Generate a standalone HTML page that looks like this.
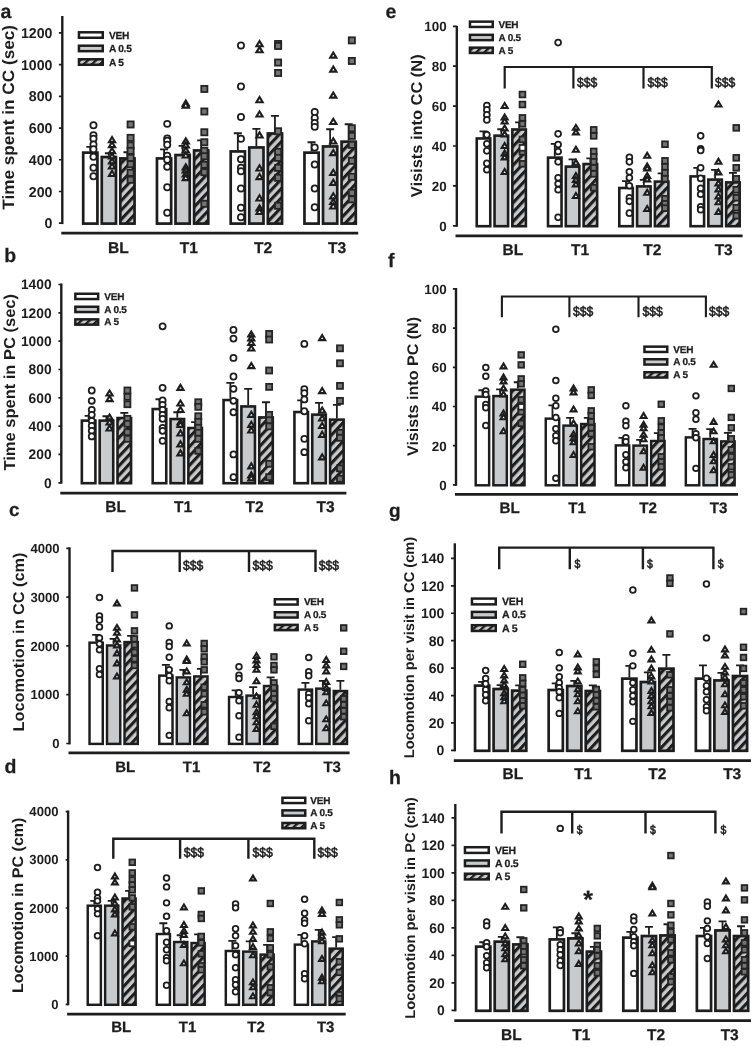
<!DOCTYPE html>
<html><head><meta charset="utf-8"><title>Figure</title>
<style>html,body{margin:0;padding:0;background:#fff}svg{display:block}text{font-family:'Liberation Sans', Arial, sans-serif;font-weight:bold;fill:#1d1d1d;text-rendering:geometricPrecision;stroke:#1d1d1d;stroke-width:0.25px}.n text{font-weight:normal;stroke-width:0.6px}text.ns,.nsg text{stroke:none}</style>
</head><body>
<svg width="751" height="1047" viewBox="0 0 751 1047">
<defs>
<pattern id="h" width="6.4" height="6.4" patternUnits="userSpaceOnUse" patternTransform="rotate(-47)"><rect width="6.4" height="6.4" fill="#c9cacc"/><rect y="0" width="6.4" height="3.1" fill="#1d1d1d"/></pattern>
<pattern id="h2" width="5.4" height="5.4" patternUnits="userSpaceOnUse" patternTransform="rotate(-42)"><rect width="5.4" height="5.4" fill="#c9cacc"/><rect y="0" width="5.4" height="2.3" fill="#1d1d1d"/></pattern>
</defs>
<rect width="751" height="1047" fill="#fff"/>
<g id="pa"><g stroke="#1d1d1d" stroke-width="2.7"><rect x="83.21" y="152.64" width="14.22" height="70.96" fill="#fff"/><rect x="101.77" y="157.03" width="14.22" height="66.57" fill="#c9cacc"/><rect x="120.33" y="158.43" width="14.22" height="65.17" fill="url(#h)"/><rect x="156.96" y="158.43" width="14.22" height="65.17" fill="#fff"/><rect x="175.52" y="155.03" width="14.22" height="68.57" fill="#c9cacc"/><rect x="194.08" y="150.44" width="14.22" height="73.16" fill="url(#h)"/><rect x="230.71" y="151.44" width="14.22" height="72.16" fill="#fff"/><rect x="249.27" y="147.45" width="14.22" height="76.15" fill="#c9cacc"/><rect x="267.83" y="133.46" width="14.22" height="90.14" fill="url(#h)"/><rect x="304.46" y="152.64" width="14.22" height="70.96" fill="#fff"/><rect x="323.02" y="146.45" width="14.22" height="77.15" fill="#c9cacc"/><rect x="341.58" y="141.65" width="14.22" height="81.95" fill="url(#h)"/></g>
<path d="M90.32 151.44V146.84M86.32 146.84H94.32M108.88 155.83V153.24M104.88 153.24H112.88M127.44 157.23V152.24M123.44 152.24H131.44M164.07 157.23V149.44M160.07 149.44H168.07M182.63 153.83V145.85M178.63 145.85H186.63M201.19 149.24V140.45M197.19 140.45H205.19M237.82 150.24V133.26M233.82 133.26H241.82M256.38 146.25V128.87M252.38 128.87H260.38M274.94 132.26V115.89M270.94 115.89H278.94M311.57 151.44V142.25M307.57 142.25H315.57M330.13 145.25V129.27M326.13 129.27H334.13M348.69 140.45V124.27M344.69 124.27H352.69" stroke="#1d1d1d" stroke-width="1.8" fill="none"/>
<g fill="#fff" stroke="#1d1d1d" stroke-width="1.75"><circle cx="93.48" cy="125.27" r="3.12"/><circle cx="93.48" cy="135.26" r="3.12"/><circle cx="93.48" cy="138.85" r="3.12"/><circle cx="93.48" cy="144.45" r="3.12"/><circle cx="93.48" cy="149.24" r="3.12"/><circle cx="93.48" cy="156.83" r="3.12"/><circle cx="93.48" cy="167.82" r="3.12"/><circle cx="93.48" cy="176.21" r="3.12"/><circle cx="167.23" cy="123.87" r="3.12"/><circle cx="167.23" cy="138.46" r="3.12"/><circle cx="167.23" cy="140.85" r="3.12"/><circle cx="167.23" cy="144.85" r="3.12"/><circle cx="167.23" cy="155.83" r="3.12"/><circle cx="167.23" cy="159.83" r="3.12"/><circle cx="167.23" cy="166.82" r="3.12"/><circle cx="167.23" cy="187.19" r="3.12"/><circle cx="167.23" cy="212.76" r="3.12"/><circle cx="240.98" cy="45.38" r="3.12"/><circle cx="240.98" cy="86.52" r="3.12"/><circle cx="240.98" cy="117.08" r="3.12"/><circle cx="240.98" cy="138.85" r="3.12"/><circle cx="240.98" cy="159.23" r="3.12"/><circle cx="240.98" cy="167.82" r="3.12"/><circle cx="240.98" cy="171.21" r="3.12"/><circle cx="240.98" cy="188.39" r="3.12"/><circle cx="240.98" cy="207.76" r="3.12"/><circle cx="240.98" cy="217.35" r="3.12"/><circle cx="314.73" cy="111.89" r="3.12"/><circle cx="314.73" cy="117.88" r="3.12"/><circle cx="314.73" cy="122.88" r="3.12"/><circle cx="314.73" cy="126.87" r="3.12"/><circle cx="314.73" cy="147.44" r="3.12"/><circle cx="314.73" cy="164.42" r="3.12"/><circle cx="314.73" cy="188.39" r="3.12"/><circle cx="314.73" cy="207.16" r="3.12"/></g>
<g fill="#fff" stroke="#1d1d1d" stroke-width="2.1" stroke-linejoin="miter"><path d="M112.04 136.99L115.14 142.13H108.94Z"/><path d="M112.04 141.99L115.14 147.12H108.94Z"/><path d="M112.04 147.98L115.14 153.11H108.94Z"/><path d="M112.04 153.37L115.14 158.51H108.94Z"/><path d="M112.04 158.36L115.14 163.5H108.94Z"/><path d="M112.04 163.36L115.14 168.49H108.94Z"/><path d="M112.04 170.75L115.14 175.88H108.94Z"/><path d="M185.79 100.44L188.89 105.58H182.69Z"/><path d="M185.79 102.44L188.89 107.58H182.69Z"/><path d="M185.79 138.39L188.89 143.53H182.69Z"/><path d="M185.79 142.39L188.89 147.52H182.69Z"/><path d="M185.79 147.38L188.89 152.52H182.69Z"/><path d="M185.79 152.37L188.89 157.51H182.69Z"/><path d="M185.79 164.36L188.89 169.49H182.69Z"/><path d="M185.79 167.35L188.89 172.49H182.69Z"/><path d="M185.79 171.35L188.89 176.48H182.69Z"/><path d="M185.79 174.94L188.89 180.08H182.69Z"/><path d="M259.54 41.12L262.64 46.26H256.44Z"/><path d="M259.54 47.11L262.64 52.25H256.44Z"/><path d="M259.54 97.05L262.64 102.18H256.44Z"/><path d="M259.54 111.43L262.64 116.56H256.44Z"/><path d="M259.54 132.4L262.64 137.54H256.44Z"/><path d="M259.54 165.36L262.64 170.49H256.44Z"/><path d="M259.54 173.94L262.64 179.08H256.44Z"/><path d="M259.54 195.32L262.64 200.45H256.44Z"/><path d="M259.54 205.3L262.64 210.44H256.44Z"/><path d="M259.54 208.9L262.64 214.03H256.44Z"/><path d="M333.29 52.51L336.39 57.64H330.19Z"/><path d="M333.29 66.49L336.39 71.62H330.19Z"/><path d="M333.29 92.45L336.39 97.59H330.19Z"/><path d="M333.29 118.82L336.39 123.95H330.19Z"/><path d="M333.29 138.39L336.39 143.53H330.19Z"/><path d="M333.29 149.98L336.39 155.11H330.19Z"/><path d="M333.29 169.75L336.39 174.89H330.19Z"/><path d="M333.29 179.74L336.39 184.87H330.19Z"/><path d="M333.29 193.32L336.39 198.45H330.19Z"/><path d="M333.29 198.91L336.39 204.05H330.19Z"/><path d="M333.29 203.3L336.39 208.44H330.19Z"/></g>
<g fill="#747474" stroke="#242424" stroke-width="1.8"><rect x="127.53" y="121.41" width="6.13" height="6.13"/><rect x="127.53" y="134.79" width="6.13" height="6.13"/><rect x="127.53" y="142.38" width="6.13" height="6.13"/><rect x="127.53" y="147.77" width="6.13" height="6.13"/><rect x="127.53" y="154.76" width="6.13" height="6.13"/><rect x="127.53" y="161.16" width="6.13" height="6.13"/><rect x="127.53" y="169.74" width="6.13" height="6.13"/><rect x="127.53" y="176.73" width="6.13" height="6.13"/><rect x="201.28" y="85.86" width="6.13" height="6.13"/><rect x="201.28" y="108.43" width="6.13" height="6.13"/><rect x="201.28" y="129.2" width="6.13" height="6.13"/><rect x="201.28" y="139.18" width="6.13" height="6.13"/><rect x="201.28" y="147.77" width="6.13" height="6.13"/><rect x="201.28" y="153.17" width="6.13" height="6.13"/><rect x="201.28" y="161.75" width="6.13" height="6.13"/><rect x="201.28" y="169.14" width="6.13" height="6.13"/><rect x="201.28" y="200.7" width="6.13" height="6.13"/><rect x="275.03" y="40.92" width="6.13" height="6.13"/><rect x="275.03" y="42.91" width="6.13" height="6.13"/><rect x="275.03" y="59.49" width="6.13" height="6.13"/><rect x="275.03" y="69.88" width="6.13" height="6.13"/><rect x="275.03" y="128.2" width="6.13" height="6.13"/><rect x="275.03" y="148.77" width="6.13" height="6.13"/><rect x="275.03" y="154.76" width="6.13" height="6.13"/><rect x="275.03" y="164.75" width="6.13" height="6.13"/><rect x="275.03" y="174.74" width="6.13" height="6.13"/><rect x="275.03" y="202.7" width="6.13" height="6.13"/><rect x="348.78" y="37.32" width="6.13" height="6.13"/><rect x="348.78" y="57.89" width="6.13" height="6.13"/><rect x="348.78" y="125.2" width="6.13" height="6.13"/><rect x="348.78" y="132.79" width="6.13" height="6.13"/><rect x="348.78" y="141.78" width="6.13" height="6.13"/><rect x="348.78" y="157.76" width="6.13" height="6.13"/><rect x="348.78" y="173.74" width="6.13" height="6.13"/><rect x="348.78" y="189.72" width="6.13" height="6.13"/><rect x="348.78" y="196.31" width="6.13" height="6.13"/></g>
<path d="M58.9 223.2H62.3M58.9 191.48H62.3M58.9 159.76H62.3M58.9 128.04H62.3M58.9 96.32H62.3M58.9 64.6H62.3M58.9 32.88H62.3" stroke="#1d1d1d" stroke-width="1.7" fill="none"/>
<path d="M61.3 233.1H358.2" stroke="#1d1d1d" stroke-width="2.7" fill="none"/>
<path d="M62.3 16V224.1" stroke="#1d1d1d" stroke-width="2.4" fill="none"/>
<g class="nsg" font-size="14.2" text-anchor="end"><text x="52.5" y="228.28">0</text><text x="52.5" y="196.56">200</text><text x="52.5" y="164.84">400</text><text x="52.5" y="133.12">600</text><text x="52.5" y="101.4">800</text><text x="52.5" y="69.68">1000</text><text x="52.5" y="37.96">1200</text></g>
<g font-size="15.6" text-anchor="middle"><text x="118.5" y="253.4">BL</text><text x="188.9" y="253.4">T1</text><text x="263" y="253.4">T2</text><text x="337" y="253.4">T3</text></g>
<text x="0.6" y="17.8" font-size="19.5">a</text>
<text transform="translate(13.6 117.4) rotate(-90)" font-size="16.5" text-anchor="middle" textLength="184.8" lengthAdjust="spacingAndGlyphs" class="ns">Time spent in CC (sec)</text>
<g font-size="10.2" letter-spacing="-0.25"><rect x="78.95" y="32.3" width="23.8" height="5.46" fill="#fff" stroke="#1d1d1d" stroke-width="2.5"/><text x="108.9" y="38.52">VEH</text><rect x="78.95" y="45.7" width="23.8" height="5.46" fill="#c9cacc" stroke="#1d1d1d" stroke-width="2.5"/><text x="108.9" y="51.92">A 0.5</text><rect x="78.95" y="59.3" width="23.8" height="5.46" fill="url(#h2)" stroke="#1d1d1d" stroke-width="2.5"/><text x="108.9" y="65.52">A 5</text></g></g>
<g id="pb"><g stroke="#1d1d1d" stroke-width="2.6"><rect x="81.85" y="420.63" width="13.55" height="62.57" fill="#fff"/><rect x="99.68" y="420.63" width="13.55" height="62.57" fill="#c9cacc"/><rect x="117.51" y="418.03" width="13.55" height="65.17" fill="url(#h)"/><rect x="152.71" y="409.04" width="13.55" height="74.16" fill="#fff"/><rect x="170.54" y="419.03" width="13.55" height="64.17" fill="#c9cacc"/><rect x="188.37" y="428.02" width="13.55" height="55.18" fill="url(#h)"/><rect x="223.57" y="400.05" width="13.55" height="83.15" fill="#fff"/><rect x="241.4" y="406.45" width="13.55" height="76.75" fill="#c9cacc"/><rect x="259.23" y="417.43" width="13.55" height="65.77" fill="url(#h)"/><rect x="294.43" y="412.04" width="13.55" height="71.16" fill="#fff"/><rect x="312.26" y="414.64" width="13.55" height="68.56" fill="#c9cacc"/><rect x="330.09" y="419.63" width="13.55" height="63.57" fill="url(#h)"/></g>
<path d="M88.63 419.43V415.83M84.63 415.83H92.63M106.46 419.43V416.23M102.46 416.23H110.46M124.29 416.83V412.84M120.29 412.84H128.29M159.49 407.84V399.25M155.49 399.25H163.49M177.32 417.83V412.24M173.32 412.24H181.32M195.15 426.82V422.22M191.15 422.22H199.15M230.35 398.85V382.88M226.35 382.88H234.35M248.18 405.25V388.87M244.18 388.87H252.18M266.01 416.23V402.25M262.01 402.25H270.01M301.21 410.84V400.45M297.21 400.45H305.21M319.04 413.44V402.85M315.04 402.85H323.04M336.87 418.43V404.85M332.87 404.85H340.87" stroke="#1d1d1d" stroke-width="1.8" fill="none"/>
<g fill="#fff" stroke="#1d1d1d" stroke-width="1.75"><circle cx="91.75" cy="390.47" r="3.04"/><circle cx="91.75" cy="400.85" r="3.04"/><circle cx="91.75" cy="409.84" r="3.04"/><circle cx="91.75" cy="414.83" r="3.04"/><circle cx="91.75" cy="420.83" r="3.04"/><circle cx="91.75" cy="425.82" r="3.04"/><circle cx="91.75" cy="430.81" r="3.04"/><circle cx="91.75" cy="436.4" r="3.04"/><circle cx="162.61" cy="326.35" r="3.04"/><circle cx="162.61" cy="387.87" r="3.04"/><circle cx="162.61" cy="400.45" r="3.04"/><circle cx="162.61" cy="404.85" r="3.04"/><circle cx="162.61" cy="409.84" r="3.04"/><circle cx="162.61" cy="414.83" r="3.04"/><circle cx="162.61" cy="418.83" r="3.04"/><circle cx="162.61" cy="427.82" r="3.04"/><circle cx="162.61" cy="430.81" r="3.04"/><circle cx="162.61" cy="440.8" r="3.04"/><circle cx="233.47" cy="329.95" r="3.04"/><circle cx="233.47" cy="338.54" r="3.04"/><circle cx="233.47" cy="357.91" r="3.04"/><circle cx="233.47" cy="376.48" r="3.04"/><circle cx="233.47" cy="388.87" r="3.04"/><circle cx="233.47" cy="400.85" r="3.04"/><circle cx="233.47" cy="412.24" r="3.04"/><circle cx="233.47" cy="454.38" r="3.04"/><circle cx="233.47" cy="477.15" r="3.04"/><circle cx="304.33" cy="343.93" r="3.04"/><circle cx="304.33" cy="389.27" r="3.04"/><circle cx="304.33" cy="393.26" r="3.04"/><circle cx="304.33" cy="399.45" r="3.04"/><circle cx="304.33" cy="411.24" r="3.04"/><circle cx="304.33" cy="438.8" r="3.04"/><circle cx="304.33" cy="452.18" r="3.04"/></g>
<g fill="#fff" stroke="#1d1d1d" stroke-width="2.1" stroke-linejoin="miter"><path d="M109.58 390.45L112.62 395.49H106.53Z"/><path d="M109.58 396.04L112.62 401.08H106.53Z"/><path d="M109.58 414.42L112.62 419.46H106.53Z"/><path d="M109.58 419.41L112.62 424.45H106.53Z"/><path d="M109.58 425.4L112.62 430.44H106.53Z"/><path d="M180.44 384.86L183.49 389.9H177.4Z"/><path d="M180.44 400.43L183.49 405.47H177.4Z"/><path d="M180.44 407.03L183.49 412.07H177.4Z"/><path d="M180.44 419.41L183.49 424.45H177.4Z"/><path d="M180.44 421.81L183.49 426.85H177.4Z"/><path d="M180.44 430.39L183.49 435.43H177.4Z"/><path d="M180.44 441.38L183.49 446.42H177.4Z"/><path d="M180.44 450.37L183.49 455.41H177.4Z"/><path d="M251.3 331.53L254.34 336.57H248.25Z"/><path d="M251.3 335.52L254.34 340.56H248.25Z"/><path d="M251.3 339.92L254.34 344.96H248.25Z"/><path d="M251.3 345.51L254.34 350.55H248.25Z"/><path d="M251.3 363.08L254.34 368.12H248.25Z"/><path d="M251.3 411.82L254.34 416.86H248.25Z"/><path d="M251.3 421.81L254.34 426.85H248.25Z"/><path d="M251.3 427.4L254.34 432.44H248.25Z"/><path d="M251.3 463.35L254.34 468.39H248.25Z"/><path d="M251.3 472.34L254.34 477.38H248.25Z"/><path d="M251.3 475.33L254.34 480.37H248.25Z"/><path d="M322.16 335.12L325.2 340.16H319.11Z"/><path d="M322.16 388.05L325.2 393.09H319.11Z"/><path d="M322.16 407.43L325.2 412.47H319.11Z"/><path d="M322.16 415.41L325.2 420.45H319.11Z"/><path d="M322.16 423L325.2 428.04H319.11Z"/><path d="M322.16 431.79L325.2 436.83H319.11Z"/><path d="M322.16 454.36L325.2 459.4H319.11Z"/></g>
<g fill="#747474" stroke="#242424" stroke-width="1.8"><rect x="124.42" y="387.48" width="5.98" height="5.98"/><rect x="124.42" y="393.87" width="5.98" height="5.98"/><rect x="124.42" y="401.26" width="5.98" height="5.98"/><rect x="124.42" y="415.84" width="5.98" height="5.98"/><rect x="124.42" y="420.83" width="5.98" height="5.98"/><rect x="124.42" y="429.22" width="5.98" height="5.98"/><rect x="124.42" y="435.81" width="5.98" height="5.98"/><rect x="195.28" y="399.26" width="5.98" height="5.98"/><rect x="195.28" y="403.85" width="5.98" height="5.98"/><rect x="195.28" y="413.24" width="5.98" height="5.98"/><rect x="195.28" y="418.83" width="5.98" height="5.98"/><rect x="195.28" y="424.83" width="5.98" height="5.98"/><rect x="195.28" y="429.82" width="5.98" height="5.98"/><rect x="195.28" y="435.81" width="5.98" height="5.98"/><rect x="195.28" y="447.8" width="5.98" height="5.98"/><rect x="266.14" y="330.95" width="5.98" height="5.98"/><rect x="266.14" y="336.54" width="5.98" height="5.98"/><rect x="266.14" y="367.5" width="5.98" height="5.98"/><rect x="266.14" y="383.88" width="5.98" height="5.98"/><rect x="266.14" y="411.84" width="5.98" height="5.98"/><rect x="266.14" y="417.24" width="5.98" height="5.98"/><rect x="266.14" y="423.43" width="5.98" height="5.98"/><rect x="266.14" y="460.78" width="5.98" height="5.98"/><rect x="266.14" y="474.16" width="5.98" height="5.98"/><rect x="337" y="345.33" width="5.98" height="5.98"/><rect x="337" y="360.31" width="5.98" height="5.98"/><rect x="337" y="382.88" width="5.98" height="5.98"/><rect x="337" y="397.86" width="5.98" height="5.98"/><rect x="337" y="429.82" width="5.98" height="5.98"/><rect x="337" y="434.81" width="5.98" height="5.98"/><rect x="337" y="465.37" width="5.98" height="5.98"/><rect x="337" y="475.76" width="5.98" height="5.98"/></g>
<path d="M58.4 482.8H61.3M58.4 454.47H61.3M58.4 426.14H61.3M58.4 397.81H61.3M58.4 369.48H61.3M58.4 341.15H61.3M58.4 312.82H61.3M58.4 284.49H61.3" stroke="#1d1d1d" stroke-width="1.7" fill="none"/>
<path d="M60.3 493.1H346.4" stroke="#1d1d1d" stroke-width="2.7" fill="none"/>
<path d="M61.3 283.5V483.7" stroke="#1d1d1d" stroke-width="2.4" fill="none"/>
<g class="nsg" font-size="13.8" text-anchor="end"><text x="51.6" y="487.74">0</text><text x="51.6" y="459.41">200</text><text x="51.6" y="431.08">400</text><text x="51.6" y="402.75">600</text><text x="51.6" y="374.42">800</text><text x="51.6" y="346.09">1000</text><text x="51.6" y="317.76">1200</text><text x="51.6" y="289.43">1400</text></g>
<g font-size="15.5" text-anchor="middle"><text x="115.7" y="511.5">BL</text><text x="183" y="511.5">T1</text><text x="254.6" y="511.5">T2</text><text x="325.5" y="511.5">T3</text></g>
<text x="4.2" y="261.7" font-size="19.5">b</text>
<text transform="translate(15.2 382.3) rotate(-90)" font-size="15.9" text-anchor="middle" textLength="176.5" lengthAdjust="spacingAndGlyphs" class="ns">Time spent in PC (sec)</text>
<g font-size="10" letter-spacing="-0.25"><rect x="75.35" y="293.75" width="22.8" height="5.3" fill="#fff" stroke="#1d1d1d" stroke-width="2.5"/><text x="104.3" y="299.85">VEH</text><rect x="75.35" y="306.75" width="22.8" height="5.3" fill="#c9cacc" stroke="#1d1d1d" stroke-width="2.5"/><text x="104.3" y="312.85">A 0.5</text><rect x="75.35" y="319.35" width="22.8" height="5.3" fill="url(#h2)" stroke="#1d1d1d" stroke-width="2.5"/><text x="104.3" y="325.45">A 5</text></g></g>
<g id="pc"><g stroke="#1d1d1d" stroke-width="2.45"><rect x="89.53" y="642.67" width="13.25" height="101.23" fill="#fff"/><rect x="107.02" y="645.47" width="13.25" height="98.43" fill="#c9cacc"/><rect x="124.51" y="642.07" width="13.25" height="101.83" fill="url(#h)"/><rect x="159.28" y="675.63" width="13.25" height="68.27" fill="#fff"/><rect x="176.77" y="677.43" width="13.25" height="66.47" fill="#c9cacc"/><rect x="194.26" y="676.43" width="13.25" height="67.47" fill="url(#h)"/><rect x="229.03" y="697" width="13.25" height="46.9" fill="#fff"/><rect x="246.52" y="695.6" width="13.25" height="48.3" fill="#c9cacc"/><rect x="264.01" y="686.01" width="13.25" height="57.89" fill="url(#h)"/><rect x="298.78" y="689.61" width="13.25" height="54.29" fill="#fff"/><rect x="316.27" y="688.61" width="13.25" height="55.29" fill="#c9cacc"/><rect x="333.76" y="691.01" width="13.25" height="52.89" fill="url(#h)"/></g>
<path d="M96.15 641.47V634.88M92.15 634.88H100.15M113.64 644.27V638.87M109.64 638.87H117.64M131.13 640.87V635.88M127.13 635.88H135.13M165.9 674.43V664.84M161.9 664.84H169.9M183.39 676.23V669.83M179.39 669.83H187.39M200.88 675.23V668.83M196.88 668.83H204.88M235.65 695.8V690.41M231.65 690.41H239.65M253.14 694.4V687.21M249.14 687.21H257.14M270.63 684.81V677.42M266.63 677.42H274.63M305.4 688.41V682.82M301.4 682.82H309.4M322.89 687.41V680.82M318.89 680.82H326.89M340.38 689.81V680.82M336.38 680.82H344.38" stroke="#1d1d1d" stroke-width="1.8" fill="none"/>
<g fill="#fff" stroke="#1d1d1d" stroke-width="1.75"><circle cx="99.48" cy="597.53" r="2.85"/><circle cx="99.48" cy="615.91" r="2.85"/><circle cx="99.48" cy="619.9" r="2.85"/><circle cx="99.48" cy="626.89" r="2.85"/><circle cx="99.48" cy="637.88" r="2.85"/><circle cx="99.48" cy="643.87" r="2.85"/><circle cx="99.48" cy="649.86" r="2.85"/><circle cx="99.48" cy="668.83" r="2.85"/><circle cx="99.48" cy="674.43" r="2.85"/><circle cx="169.23" cy="625.89" r="2.85"/><circle cx="169.23" cy="642.47" r="2.85"/><circle cx="169.23" cy="646.46" r="2.85"/><circle cx="169.23" cy="657.25" r="2.85"/><circle cx="169.23" cy="669.83" r="2.85"/><circle cx="169.23" cy="675.83" r="2.85"/><circle cx="169.23" cy="680.82" r="2.85"/><circle cx="169.23" cy="701.39" r="2.85"/><circle cx="169.23" cy="707.78" r="2.85"/><circle cx="169.23" cy="735.35" r="2.85"/><circle cx="238.98" cy="666.84" r="2.85"/><circle cx="238.98" cy="675.23" r="2.85"/><circle cx="238.98" cy="678.42" r="2.85"/><circle cx="238.98" cy="692.8" r="2.85"/><circle cx="238.98" cy="700.79" r="2.85"/><circle cx="238.98" cy="715.77" r="2.85"/><circle cx="238.98" cy="737.14" r="2.85"/><circle cx="308.73" cy="657.45" r="2.85"/><circle cx="308.73" cy="671.83" r="2.85"/><circle cx="308.73" cy="675.83" r="2.85"/><circle cx="308.73" cy="693.8" r="2.85"/><circle cx="308.73" cy="697.8" r="2.85"/><circle cx="308.73" cy="703.79" r="2.85"/><circle cx="308.73" cy="720.77" r="2.85"/></g>
<g fill="#fff" stroke="#1d1d1d" stroke-width="2.1" stroke-linejoin="miter"><path d="M116.97 600.62L119.87 605.42H114.07Z"/><path d="M116.97 624.99L119.87 629.79H114.07Z"/><path d="M116.97 629.98L119.87 634.78H114.07Z"/><path d="M116.97 636.57L119.87 641.37H114.07Z"/><path d="M116.97 642.57L119.87 647.37H114.07Z"/><path d="M116.97 650.56L119.87 655.36H114.07Z"/><path d="M116.97 660.54L119.87 665.34H114.07Z"/><path d="M116.97 673.53L119.87 678.33H114.07Z"/><path d="M186.72 640.57L189.62 645.37H183.82Z"/><path d="M186.72 656.55L189.62 661.35H183.82Z"/><path d="M186.72 658.15L189.62 662.95H183.82Z"/><path d="M186.72 668.53L189.62 673.33H183.82Z"/><path d="M186.72 679.52L189.62 684.32H183.82Z"/><path d="M186.72 686.91L189.62 691.71H183.82Z"/><path d="M186.72 690.9L189.62 695.7H183.82Z"/><path d="M186.72 710.48L189.62 715.28H183.82Z"/><path d="M256.47 653.15L259.37 657.95H253.57Z"/><path d="M256.47 657.55L259.37 662.35H253.57Z"/><path d="M256.47 662.14L259.37 666.94H253.57Z"/><path d="M256.47 666.93L259.37 671.73H253.57Z"/><path d="M256.47 678.52L259.37 683.32H253.57Z"/><path d="M256.47 693.5L259.37 698.3H253.57Z"/><path d="M256.47 701.89L259.37 706.69H253.57Z"/><path d="M256.47 709.48L259.37 714.28H253.57Z"/><path d="M256.47 713.47L259.37 718.27H253.57Z"/><path d="M256.47 719.46L259.37 724.26H253.57Z"/><path d="M256.47 726.06L259.37 730.86H253.57Z"/><path d="M326.22 657.15L329.12 661.95H323.32Z"/><path d="M326.22 662.54L329.12 667.34H323.32Z"/><path d="M326.22 668.53L329.12 673.33H323.32Z"/><path d="M326.22 679.12L329.12 683.92H323.32Z"/><path d="M326.22 685.11L329.12 689.91H323.32Z"/><path d="M326.22 689.5L329.12 694.3H323.32Z"/><path d="M326.22 700.49L329.12 705.29H323.32Z"/><path d="M326.22 716.47L329.12 721.27H323.32Z"/><path d="M326.22 725.46L329.12 730.26H323.32Z"/></g>
<g fill="#747474" stroke="#242424" stroke-width="1.8"><rect x="131.66" y="585.14" width="5.6" height="5.6"/><rect x="131.66" y="612.11" width="5.6" height="5.6"/><rect x="131.66" y="628.09" width="5.6" height="5.6"/><rect x="131.66" y="636.07" width="5.6" height="5.6"/><rect x="131.66" y="642.07" width="5.6" height="5.6"/><rect x="131.66" y="649.46" width="5.6" height="5.6"/><rect x="131.66" y="656.05" width="5.6" height="5.6"/><rect x="131.66" y="662.64" width="5.6" height="5.6"/><rect x="201.41" y="640.67" width="5.6" height="5.6"/><rect x="201.41" y="646.06" width="5.6" height="5.6"/><rect x="201.41" y="654.05" width="5.6" height="5.6"/><rect x="201.41" y="659.04" width="5.6" height="5.6"/><rect x="201.41" y="667.03" width="5.6" height="5.6"/><rect x="201.41" y="684.41" width="5.6" height="5.6"/><rect x="201.41" y="691" width="5.6" height="5.6"/><rect x="201.41" y="701.99" width="5.6" height="5.6"/><rect x="201.41" y="708.98" width="5.6" height="5.6"/><rect x="271.16" y="654.05" width="5.6" height="5.6"/><rect x="271.16" y="662.64" width="5.6" height="5.6"/><rect x="271.16" y="667.03" width="5.6" height="5.6"/><rect x="271.16" y="680.02" width="5.6" height="5.6"/><rect x="271.16" y="685.01" width="5.6" height="5.6"/><rect x="271.16" y="691" width="5.6" height="5.6"/><rect x="271.16" y="695.99" width="5.6" height="5.6"/><rect x="271.16" y="723.56" width="5.6" height="5.6"/><rect x="340.91" y="625.09" width="5.6" height="5.6"/><rect x="340.91" y="648.46" width="5.6" height="5.6"/><rect x="340.91" y="663.64" width="5.6" height="5.6"/><rect x="340.91" y="695.99" width="5.6" height="5.6"/><rect x="340.91" y="701.99" width="5.6" height="5.6"/><rect x="340.91" y="707.98" width="5.6" height="5.6"/><rect x="340.91" y="713.97" width="5.6" height="5.6"/></g>
<path d="M66.3 743.5H69.5M66.3 694.7H69.5M66.3 645.9H69.5M66.3 597.1H69.5M66.3 548.3H69.5" stroke="#1d1d1d" stroke-width="1.7" fill="none"/>
<path d="M68.5 752.9H349.6" stroke="#1d1d1d" stroke-width="2.7" fill="none"/>
<path d="M112.5 571.9V551H315.5V571.9M179.7 551V571.9M249 551V571.9" stroke="#1d1d1d" stroke-width="2.4" fill="none"/>
<path d="M69.5 547.3V744.4" stroke="#1d1d1d" stroke-width="2.4" fill="none"/>
<g class="nsg" font-size="13.1" text-anchor="end"><text x="59.6" y="748.19">0</text><text x="59.6" y="699.39">1000</text><text x="59.6" y="650.59">2000</text><text x="59.6" y="601.79">3000</text><text x="59.6" y="552.99">4000</text></g>
<g font-size="15" text-anchor="middle"><text x="125.2" y="771.8">BL</text><text x="191.5" y="771.8">T1</text><text x="262" y="771.8">T2</text><text x="332.2" y="771.8">T3</text></g>
<text x="9" y="516" font-size="18.8">c</text>
<text transform="translate(24 642) rotate(-90)" font-size="15.6" text-anchor="middle" textLength="178.8" lengthAdjust="spacingAndGlyphs" class="ns">Locomotion in CC (cm)</text>
<g font-size="10" letter-spacing="-0.25"><rect x="274.85" y="599.25" width="22.8" height="5.3" fill="#fff" stroke="#1d1d1d" stroke-width="2.5"/><text x="303.9" y="605.35">VEH</text><rect x="274.85" y="612.25" width="22.8" height="5.3" fill="#c9cacc" stroke="#1d1d1d" stroke-width="2.5"/><text x="303.9" y="618.35">A 0.5</text><rect x="274.85" y="624.85" width="22.8" height="5.3" fill="url(#h2)" stroke="#1d1d1d" stroke-width="2.5"/><text x="303.9" y="630.95">A 5</text></g>
<g class="n" font-size="13.5"><text transform="translate(183 570) scale(0.9 1)">$$$</text><text transform="translate(252.5 570) scale(0.9 1)">$$$</text><text transform="translate(318.8 570) scale(0.9 1)">$$$</text></g></g>
<g id="pd"><g stroke="#1d1d1d" stroke-width="2.45"><rect x="87.74" y="905.67" width="13.15" height="99.13" fill="#fff"/><rect x="105.12" y="905.67" width="13.15" height="99.13" fill="#c9cacc"/><rect x="122.5" y="898.48" width="13.15" height="106.32" fill="url(#h)"/><rect x="156.77" y="934.03" width="13.15" height="70.77" fill="#fff"/><rect x="174.15" y="942.02" width="13.15" height="62.78" fill="#c9cacc"/><rect x="191.53" y="943.02" width="13.15" height="61.78" fill="url(#h)"/><rect x="225.8" y="951.01" width="13.15" height="53.79" fill="#fff"/><rect x="243.18" y="951.61" width="13.15" height="53.19" fill="#c9cacc"/><rect x="260.56" y="954.6" width="13.15" height="50.2" fill="url(#h)"/><rect x="294.83" y="944.62" width="13.15" height="60.18" fill="#fff"/><rect x="312.21" y="941.42" width="13.15" height="63.38" fill="#c9cacc"/><rect x="329.59" y="948.61" width="13.15" height="56.19" fill="url(#h)"/></g>
<path d="M94.31 904.47V900.87M90.31 900.87H98.31M111.69 904.47V900.87M107.69 900.87H115.69M129.07 897.28V890.89M125.07 890.89H133.07M163.34 932.83V923.24M159.34 923.24H167.34M180.72 940.82V935.23M176.72 935.23H184.72M198.1 941.82V934.43M194.1 934.43H202.1M232.37 949.81V940.82M228.37 940.82H236.37M249.75 950.41V941.42M245.75 941.42H253.75M267.13 953.4V944.81M263.13 944.81H271.13M301.4 943.42V934.83M297.4 934.83H305.4M318.78 940.22V929.83M314.78 929.83H322.78M336.16 947.41V937.22M332.16 937.22H340.16" stroke="#1d1d1d" stroke-width="1.8" fill="none"/>
<g fill="#fff" stroke="#1d1d1d" stroke-width="1.75"><circle cx="97.51" cy="867.52" r="2.85"/><circle cx="97.51" cy="892.28" r="2.85"/><circle cx="97.51" cy="897.88" r="2.85"/><circle cx="97.51" cy="900.87" r="2.85"/><circle cx="97.51" cy="908.86" r="2.85"/><circle cx="97.51" cy="913.85" r="2.85"/><circle cx="97.51" cy="935.83" r="2.85"/><circle cx="166.54" cy="877.9" r="2.85"/><circle cx="166.54" cy="886.89" r="2.85"/><circle cx="166.54" cy="902.87" r="2.85"/><circle cx="166.54" cy="916.25" r="2.85"/><circle cx="166.54" cy="930.83" r="2.85"/><circle cx="166.54" cy="942.22" r="2.85"/><circle cx="166.54" cy="949.81" r="2.85"/><circle cx="166.54" cy="957.8" r="2.85"/><circle cx="166.54" cy="960.79" r="2.85"/><circle cx="166.54" cy="985.16" r="2.85"/><circle cx="235.57" cy="903.87" r="2.85"/><circle cx="235.57" cy="907.86" r="2.85"/><circle cx="235.57" cy="928.83" r="2.85"/><circle cx="235.57" cy="935.83" r="2.85"/><circle cx="235.57" cy="945.81" r="2.85"/><circle cx="235.57" cy="954.8" r="2.85"/><circle cx="235.57" cy="967.78" r="2.85"/><circle cx="235.57" cy="979.77" r="2.85"/><circle cx="235.57" cy="984.76" r="2.85"/><circle cx="235.57" cy="991.75" r="2.85"/><circle cx="304.6" cy="899.27" r="2.85"/><circle cx="304.6" cy="913.26" r="2.85"/><circle cx="304.6" cy="919.85" r="2.85"/><circle cx="304.6" cy="923.24" r="2.85"/><circle cx="304.6" cy="935.83" r="2.85"/><circle cx="304.6" cy="943.81" r="2.85"/><circle cx="304.6" cy="973.77" r="2.85"/><circle cx="304.6" cy="978.77" r="2.85"/></g>
<g fill="#fff" stroke="#1d1d1d" stroke-width="2.1" stroke-linejoin="miter"><path d="M114.89 873.61L117.79 878.41H111.99Z"/><path d="M114.89 879.6L117.79 884.4H111.99Z"/><path d="M114.89 894.58L117.79 899.38H111.99Z"/><path d="M114.89 900.57L117.79 905.37H111.99Z"/><path d="M114.89 906.56L117.79 911.36H111.99Z"/><path d="M114.89 911.55L117.79 916.35H111.99Z"/><path d="M114.89 930.53L117.79 935.33H111.99Z"/><path d="M183.92 904.56L186.82 909.36H181.02Z"/><path d="M183.92 922.14L186.82 926.94H181.02Z"/><path d="M183.92 928.13L186.82 932.93H181.02Z"/><path d="M183.92 932.13L186.82 936.93H181.02Z"/><path d="M183.92 942.11L186.82 946.91H181.02Z"/><path d="M183.92 960.49L186.82 965.29H181.02Z"/><path d="M252.95 875.6L255.85 880.4H250.05Z"/><path d="M252.95 922.54L255.85 927.34H250.05Z"/><path d="M252.95 928.93L255.85 933.73H250.05Z"/><path d="M252.95 936.12L255.85 940.92H250.05Z"/><path d="M252.95 944.11L255.85 948.91H250.05Z"/><path d="M252.95 952.5L255.85 957.3H250.05Z"/><path d="M252.95 979.46L255.85 984.26H250.05Z"/><path d="M252.95 984.46L255.85 989.26H250.05Z"/><path d="M252.95 993.45L255.85 998.25H250.05Z"/><path d="M321.98 907.56L324.88 912.36H319.08Z"/><path d="M321.98 911.16L324.88 915.96H319.08Z"/><path d="M321.98 929.53L324.88 934.33H319.08Z"/><path d="M321.98 933.53L324.88 938.33H319.08Z"/><path d="M321.98 938.52L324.88 943.32H319.08Z"/><path d="M321.98 956.1L324.88 960.9H319.08Z"/><path d="M321.98 974.87L324.88 979.67H319.08Z"/><path d="M321.98 978.47L324.88 983.27H319.08Z"/></g>
<g fill="#747474" stroke="#242424" stroke-width="1.8"><rect x="129.47" y="859.52" width="5.6" height="5.6"/><rect x="129.47" y="870.11" width="5.6" height="5.6"/><rect x="129.47" y="877.1" width="5.6" height="5.6"/><rect x="129.47" y="882.09" width="5.6" height="5.6"/><rect x="129.47" y="887.09" width="5.6" height="5.6"/><rect x="129.47" y="895.08" width="5.6" height="5.6"/><rect x="129.47" y="904.06" width="5.6" height="5.6"/><rect x="129.47" y="924.04" width="5.6" height="5.6"/><rect x="198.5" y="888.09" width="5.6" height="5.6"/><rect x="198.5" y="911.65" width="5.6" height="5.6"/><rect x="198.5" y="915.65" width="5.6" height="5.6"/><rect x="198.5" y="933.62" width="5.6" height="5.6"/><rect x="198.5" y="940.02" width="5.6" height="5.6"/><rect x="198.5" y="951" width="5.6" height="5.6"/><rect x="198.5" y="962.99" width="5.6" height="5.6"/><rect x="198.5" y="966.98" width="5.6" height="5.6"/><rect x="267.53" y="900.67" width="5.6" height="5.6"/><rect x="267.53" y="929.03" width="5.6" height="5.6"/><rect x="267.53" y="935.62" width="5.6" height="5.6"/><rect x="267.53" y="945.01" width="5.6" height="5.6"/><rect x="267.53" y="952" width="5.6" height="5.6"/><rect x="267.53" y="963.98" width="5.6" height="5.6"/><rect x="267.53" y="984.96" width="5.6" height="5.6"/><rect x="267.53" y="989.95" width="5.6" height="5.6"/><rect x="336.56" y="899.67" width="5.6" height="5.6"/><rect x="336.56" y="917.05" width="5.6" height="5.6"/><rect x="336.56" y="922.04" width="5.6" height="5.6"/><rect x="336.56" y="936.02" width="5.6" height="5.6"/><rect x="336.56" y="958.99" width="5.6" height="5.6"/><rect x="336.56" y="969.58" width="5.6" height="5.6"/><rect x="336.56" y="991.95" width="5.6" height="5.6"/><rect x="336.56" y="995.94" width="5.6" height="5.6"/></g>
<g fill="#fff" stroke="#242424" stroke-width="1.8"><rect x="129.47" y="940.62" width="5.6" height="5.6"/></g>
<path d="M65.7 1004.4H68.1M65.7 956.2H68.1M65.7 908H68.1M65.7 859.8H68.1M65.7 811.6H68.1" stroke="#1d1d1d" stroke-width="1.7" fill="none"/>
<path d="M67.1 1014.1H345.7" stroke="#1d1d1d" stroke-width="2.7" fill="none"/>
<path d="M113.3 858.8V838.7H314.3V858.8M180.1 838.7V858.8M248.4 838.7V858.8" stroke="#1d1d1d" stroke-width="2.4" fill="none"/>
<path d="M68.1 810.5V1005.3" stroke="#1d1d1d" stroke-width="2.4" fill="none"/>
<g class="nsg" font-size="13.1" text-anchor="end"><text x="58.5" y="1009.09">0</text><text x="58.5" y="960.89">1000</text><text x="58.5" y="912.69">2000</text><text x="58.5" y="864.49">3000</text><text x="58.5" y="816.29">4000</text></g>
<g font-size="15" text-anchor="middle"><text x="121.2" y="1032">BL</text><text x="187.5" y="1032">T1</text><text x="256" y="1032">T2</text><text x="325.7" y="1032">T3</text></g>
<text x="4.4" y="772.6" font-size="19.5">d</text>
<text transform="translate(23.4 905.3) rotate(-90)" font-size="15.4" text-anchor="middle" textLength="175.5" lengthAdjust="spacingAndGlyphs" class="ns">Locomotion in PC (cm)</text>
<g font-size="10" letter-spacing="-0.25"><rect x="282.45" y="797.75" width="22.8" height="5.3" fill="#fff" stroke="#1d1d1d" stroke-width="2.5"/><text x="310.3" y="803.85">VEH</text><rect x="282.45" y="810.35" width="22.8" height="5.3" fill="#c9cacc" stroke="#1d1d1d" stroke-width="2.5"/><text x="310.3" y="816.45">A 0.5</text><rect x="282.45" y="822.95" width="22.8" height="5.3" fill="url(#h2)" stroke="#1d1d1d" stroke-width="2.5"/><text x="310.3" y="829.05">A 5</text></g>
<g class="n" font-size="13.5"><text transform="translate(183.8 857.3) scale(0.9 1)">$$$</text><text transform="translate(252.5 857.3) scale(0.9 1)">$$$</text><text transform="translate(317.4 857.3) scale(0.9 1)">$$$</text></g></g>
<g id="pe"><g stroke="#1d1d1d" stroke-width="2.6"><rect x="476.74" y="138.46" width="13.53" height="87.74" fill="#fff"/><rect x="494.54" y="135.66" width="13.53" height="90.54" fill="#c9cacc"/><rect x="512.34" y="129.47" width="13.53" height="96.73" fill="url(#h)"/><rect x="548.01" y="157.63" width="13.53" height="68.57" fill="#fff"/><rect x="565.81" y="166.62" width="13.53" height="59.58" fill="#c9cacc"/><rect x="583.61" y="164.02" width="13.53" height="62.18" fill="url(#h)"/><rect x="619.28" y="187.99" width="13.53" height="38.21" fill="#fff"/><rect x="637.08" y="186.39" width="13.53" height="39.81" fill="#c9cacc"/><rect x="654.88" y="181.6" width="13.53" height="44.6" fill="url(#h)"/><rect x="690.55" y="176.41" width="13.53" height="49.79" fill="#fff"/><rect x="708.35" y="179.6" width="13.53" height="46.6" fill="#c9cacc"/><rect x="726.15" y="182.4" width="13.53" height="43.8" fill="url(#h)"/></g>
<path d="M483.5 137.26V131.46M479.5 131.46H487.5M501.3 134.46V129.27M497.3 129.27H505.3M519.1 128.27V122.28M515.1 122.28H523.1M554.77 156.43V143.85M550.77 143.85H558.77M572.57 165.42V159.43M568.57 159.43H576.57M590.37 162.82V158.43M586.37 158.43H594.37M626.04 186.79V181.2M622.04 181.2H630.04M643.84 185.19V179.8M639.84 179.8H647.84M661.64 180.4V173.41M657.64 173.41H665.64M697.31 175.21V167.82M693.31 167.82H701.31M715.11 178.4V169.81M711.11 169.81H719.11M732.91 181.2V172.81M728.91 172.81H736.91" stroke="#1d1d1d" stroke-width="1.8" fill="none"/>
<g fill="#fff" stroke="#1d1d1d" stroke-width="1.75"><circle cx="486.85" cy="105.5" r="2.93"/><circle cx="486.85" cy="109.89" r="2.93"/><circle cx="486.85" cy="114.89" r="2.93"/><circle cx="486.85" cy="119.88" r="2.93"/><circle cx="486.85" cy="134.86" r="2.93"/><circle cx="486.85" cy="143.85" r="2.93"/><circle cx="486.85" cy="150.84" r="2.93"/><circle cx="486.85" cy="163.42" r="2.93"/><circle cx="486.85" cy="169.81" r="2.93"/><circle cx="558.12" cy="42.58" r="2.93"/><circle cx="558.12" cy="133.86" r="2.93"/><circle cx="558.12" cy="144.45" r="2.93"/><circle cx="558.12" cy="151.44" r="2.93"/><circle cx="558.12" cy="161.82" r="2.93"/><circle cx="558.12" cy="177.8" r="2.93"/><circle cx="558.12" cy="183.79" r="2.93"/><circle cx="558.12" cy="189.79" r="2.93"/><circle cx="558.12" cy="217.35" r="2.93"/><circle cx="629.39" cy="157.23" r="2.93"/><circle cx="629.39" cy="161.82" r="2.93"/><circle cx="629.39" cy="171.81" r="2.93"/><circle cx="629.39" cy="177.8" r="2.93"/><circle cx="629.39" cy="185.79" r="2.93"/><circle cx="629.39" cy="197.78" r="2.93"/><circle cx="629.39" cy="201.37" r="2.93"/><circle cx="629.39" cy="213.16" r="2.93"/><circle cx="700.66" cy="135.86" r="2.93"/><circle cx="700.66" cy="148.84" r="2.93"/><circle cx="700.66" cy="150.44" r="2.93"/><circle cx="700.66" cy="167.82" r="2.93"/><circle cx="700.66" cy="178.4" r="2.93"/><circle cx="700.66" cy="188.39" r="2.93"/><circle cx="700.66" cy="194.18" r="2.93"/><circle cx="700.66" cy="206.76" r="2.93"/><circle cx="700.66" cy="209.76" r="2.93"/></g>
<g fill="#fff" stroke="#1d1d1d" stroke-width="2.1" stroke-linejoin="miter"><path d="M504.65 103.15L507.61 108.05H501.69Z"/><path d="M504.65 114.54L507.61 119.43H501.69Z"/><path d="M504.65 118.53L507.61 123.43H501.69Z"/><path d="M504.65 125.52L507.61 130.42H501.69Z"/><path d="M504.65 131.52L507.61 136.41H501.69Z"/><path d="M504.65 143.1L507.61 148H501.69Z"/><path d="M504.65 150.49L507.61 155.39H501.69Z"/><path d="M504.65 154.48L507.61 159.38H501.69Z"/><path d="M504.65 169.07L507.61 173.96H501.69Z"/><path d="M575.92 124.92L578.88 129.82H572.96Z"/><path d="M575.92 129.52L578.88 134.41H572.96Z"/><path d="M575.92 146.9L578.88 151.79H572.96Z"/><path d="M575.92 159.88L578.88 164.77H572.96Z"/><path d="M575.92 173.06L578.88 177.96H572.96Z"/><path d="M575.92 177.05L578.88 181.95H572.96Z"/><path d="M575.92 181.45L578.88 186.34H572.96Z"/><path d="M575.92 193.03L578.88 197.93H572.96Z"/><path d="M647.19 152.89L650.15 157.78H644.23Z"/><path d="M647.19 163.47L650.15 168.37H644.23Z"/><path d="M647.19 165.47L650.15 170.37H644.23Z"/><path d="M647.19 173.06L650.15 177.96H644.23Z"/><path d="M647.19 176.46L650.15 181.35H644.23Z"/><path d="M647.19 189.84L650.15 194.73H644.23Z"/><path d="M647.19 206.02L650.15 210.91H644.23Z"/><path d="M718.46 101.56L721.42 106.45H715.5Z"/><path d="M718.46 158.88L721.42 163.78H715.5Z"/><path d="M718.46 169.46L721.42 174.36H715.5Z"/><path d="M718.46 180.45L721.42 185.35H715.5Z"/><path d="M718.46 186.44L721.42 191.34H715.5Z"/><path d="M718.46 193.43L721.42 198.33H715.5Z"/><path d="M718.46 199.42L721.42 204.32H715.5Z"/><path d="M718.46 209.01L721.42 213.91H715.5Z"/></g>
<g fill="#747474" stroke="#242424" stroke-width="1.8"><rect x="519.57" y="91.64" width="5.75" height="5.75"/><rect x="519.57" y="101.62" width="5.75" height="5.75"/><rect x="519.57" y="115.01" width="5.75" height="5.75"/><rect x="519.57" y="121" width="5.75" height="5.75"/><rect x="519.57" y="136.58" width="5.75" height="5.75"/><rect x="519.57" y="148.96" width="5.75" height="5.75"/><rect x="519.57" y="160.95" width="5.75" height="5.75"/><rect x="590.84" y="126.99" width="5.75" height="5.75"/><rect x="590.84" y="132.98" width="5.75" height="5.75"/><rect x="590.84" y="148.56" width="5.75" height="5.75"/><rect x="590.84" y="153.95" width="5.75" height="5.75"/><rect x="590.84" y="158.95" width="5.75" height="5.75"/><rect x="590.84" y="164.94" width="5.75" height="5.75"/><rect x="590.84" y="170.93" width="5.75" height="5.75"/><rect x="590.84" y="184.91" width="5.75" height="5.75"/><rect x="662.11" y="141.37" width="5.75" height="5.75"/><rect x="662.11" y="157.95" width="5.75" height="5.75"/><rect x="662.11" y="163.94" width="5.75" height="5.75"/><rect x="662.11" y="169.93" width="5.75" height="5.75"/><rect x="662.11" y="175.93" width="5.75" height="5.75"/><rect x="662.11" y="195.9" width="5.75" height="5.75"/><rect x="662.11" y="200.89" width="5.75" height="5.75"/><rect x="662.11" y="205.29" width="5.75" height="5.75"/><rect x="733.38" y="124.99" width="5.75" height="5.75"/><rect x="733.38" y="154.95" width="5.75" height="5.75"/><rect x="733.38" y="164.94" width="5.75" height="5.75"/><rect x="733.38" y="175.93" width="5.75" height="5.75"/><rect x="733.38" y="186.91" width="5.75" height="5.75"/><rect x="733.38" y="194.9" width="5.75" height="5.75"/><rect x="733.38" y="204.89" width="5.75" height="5.75"/><rect x="733.38" y="212.88" width="5.75" height="5.75"/></g>
<g fill="#fff" stroke="#242424" stroke-width="1.8"><rect x="519.57" y="144.97" width="5.75" height="5.75"/></g>
<path d="M452.9 225.8H456.8M452.9 185.9H456.8M452.9 146H456.8M452.9 106.1H456.8M452.9 66.2H456.8M452.9 26.3H456.8" stroke="#1d1d1d" stroke-width="1.7" fill="none"/>
<path d="M455.5 235.9H742.6" stroke="#1d1d1d" stroke-width="2.7" fill="none"/>
<path d="M504.7 88.4V67H711.8V88.4M573.4 67V88.4M643.5 67V88.4" stroke="#1d1d1d" stroke-width="2.2" fill="none"/>
<path d="M456.8 25.9V226.7" stroke="#1d1d1d" stroke-width="2.4" fill="none"/>
<g class="nsg" font-size="13.4" text-anchor="end"><text x="446.6" y="230.6">0</text><text x="446.6" y="190.7">20</text><text x="446.6" y="150.8">40</text><text x="446.6" y="110.9">60</text><text x="446.6" y="71">80</text><text x="446.6" y="31.1">100</text></g>
<g font-size="15.5" text-anchor="middle"><text x="512.8" y="255">BL</text><text x="580" y="255">T1</text><text x="652.3" y="255">T2</text><text x="723.7" y="255">T3</text></g>
<text x="385.4" y="17.8" font-size="19.5">e</text>
<text transform="translate(421.8 125.8) rotate(-90)" font-size="15.7" text-anchor="middle" textLength="142.9" lengthAdjust="spacingAndGlyphs" class="ns">Visists into CC (N)</text>
<g font-size="10" letter-spacing="-0.25"><rect x="469.95" y="21.65" width="22.8" height="5.3" fill="#fff" stroke="#1d1d1d" stroke-width="2.5"/><text x="498.5" y="27.75">VEH</text><rect x="469.95" y="34.85" width="22.8" height="5.3" fill="#c9cacc" stroke="#1d1d1d" stroke-width="2.5"/><text x="498.5" y="40.95">A 0.5</text><rect x="469.95" y="47.65" width="22.8" height="5.3" fill="url(#h2)" stroke="#1d1d1d" stroke-width="2.5"/><text x="498.5" y="53.75">A 5</text></g>
<g class="n" font-size="13.5"><text transform="translate(576.9 86.5) scale(0.9 1)">$$$</text><text transform="translate(647.4 86.5) scale(0.9 1)">$$$</text><text transform="translate(714.9 86.5) scale(0.9 1)">$$$</text></g></g>
<g id="pf"><g stroke="#1d1d1d" stroke-width="2.45"><rect x="475.71" y="396.65" width="13.43" height="88.65" fill="#fff"/><rect x="493.4" y="396.05" width="13.43" height="89.25" fill="#c9cacc"/><rect x="511.09" y="389.66" width="13.43" height="95.64" fill="url(#h)"/><rect x="545.75" y="418.62" width="13.43" height="66.68" fill="#fff"/><rect x="563.44" y="425.61" width="13.43" height="59.69" fill="#c9cacc"/><rect x="581.13" y="424.02" width="13.43" height="61.28" fill="url(#h)"/><rect x="615.79" y="445.39" width="13.43" height="39.91" fill="#fff"/><rect x="633.48" y="445.59" width="13.43" height="39.71" fill="#c9cacc"/><rect x="651.17" y="440.99" width="13.43" height="44.31" fill="url(#h)"/><rect x="685.83" y="437.4" width="13.43" height="47.9" fill="#fff"/><rect x="703.52" y="439" width="13.43" height="46.3" fill="#c9cacc"/><rect x="721.21" y="441.39" width="13.43" height="43.91" fill="url(#h)"/></g>
<path d="M482.42 395.45V390.26M478.42 390.26H486.42M500.11 394.85V389.46M496.11 389.46H504.11M517.8 388.46V382.27M513.8 382.27H521.8M552.46 417.42V405.44M548.46 405.44H556.46M570.15 424.41V417.82M566.15 417.82H574.15M587.84 422.82V417.82M583.84 417.82H591.84M622.5 444.19V437.8M618.5 437.8H626.5M640.19 444.39V439.79M636.19 439.79H644.19M657.88 439.79V433.2M653.88 433.2H661.88M692.54 436.2V428.81M688.54 428.81H696.54M710.23 437.8V429.21M706.23 429.21H714.23M727.92 440.19V432.8M723.92 432.8H731.92" stroke="#1d1d1d" stroke-width="1.8" fill="none"/>
<g fill="#fff" stroke="#1d1d1d" stroke-width="1.75"><circle cx="485.81" cy="367.49" r="2.85"/><circle cx="485.81" cy="376.28" r="2.85"/><circle cx="485.81" cy="390.86" r="2.85"/><circle cx="485.81" cy="394.45" r="2.85"/><circle cx="485.81" cy="404.44" r="2.85"/><circle cx="485.81" cy="407.84" r="2.85"/><circle cx="485.81" cy="425.41" r="2.85"/><circle cx="555.85" cy="329.34" r="2.85"/><circle cx="555.85" cy="380.47" r="2.85"/><circle cx="555.85" cy="398.25" r="2.85"/><circle cx="555.85" cy="405.84" r="2.85"/><circle cx="555.85" cy="417.42" r="2.85"/><circle cx="555.85" cy="428.81" r="2.85"/><circle cx="555.85" cy="435.8" r="2.85"/><circle cx="555.85" cy="440.79" r="2.85"/><circle cx="555.85" cy="478.34" r="2.85"/><circle cx="625.89" cy="405.84" r="2.85"/><circle cx="625.89" cy="421.22" r="2.85"/><circle cx="625.89" cy="425.81" r="2.85"/><circle cx="625.89" cy="437.8" r="2.85"/><circle cx="625.89" cy="441.79" r="2.85"/><circle cx="625.89" cy="454.77" r="2.85"/><circle cx="625.89" cy="461.76" r="2.85"/><circle cx="625.89" cy="467.76" r="2.85"/><circle cx="695.93" cy="395.85" r="2.85"/><circle cx="695.93" cy="412.83" r="2.85"/><circle cx="695.93" cy="419.22" r="2.85"/><circle cx="695.93" cy="433.8" r="2.85"/><circle cx="695.93" cy="437.8" r="2.85"/><circle cx="695.93" cy="468.36" r="2.85"/></g>
<g fill="#fff" stroke="#1d1d1d" stroke-width="2.1" stroke-linejoin="miter"><path d="M503.5 363.59L506.4 368.39H500.6Z"/><path d="M503.5 374.58L506.4 379.38H500.6Z"/><path d="M503.5 378.57L506.4 383.37H500.6Z"/><path d="M503.5 385.56L506.4 390.36H500.6Z"/><path d="M503.5 391.55L506.4 396.35H500.6Z"/><path d="M503.5 410.53L506.4 415.33H500.6Z"/><path d="M503.5 414.52L506.4 419.32H500.6Z"/><path d="M503.5 428.51L506.4 433.31H500.6Z"/><path d="M573.54 385.56L576.44 390.36H570.64Z"/><path d="M573.54 389.56L576.44 394.36H570.64Z"/><path d="M573.54 406.53L576.44 411.33H570.64Z"/><path d="M573.54 420.52L576.44 425.32H570.64Z"/><path d="M573.54 431.5L576.44 436.3H570.64Z"/><path d="M573.54 435.5L576.44 440.3H570.64Z"/><path d="M573.54 439.49L576.44 444.29H570.64Z"/><path d="M573.54 452.07L576.44 456.87H570.64Z"/><path d="M643.58 413.13L646.48 417.93H640.68Z"/><path d="M643.58 421.91L646.48 426.71H640.68Z"/><path d="M643.58 425.51L646.48 430.31H640.68Z"/><path d="M643.58 431.9L646.48 436.7H640.68Z"/><path d="M643.58 436.49L646.48 441.29H640.68Z"/><path d="M643.58 448.48L646.48 453.28H640.68Z"/><path d="M643.58 464.86L646.48 469.66H640.68Z"/><path d="M713.62 361.99L716.52 366.79H710.72Z"/><path d="M713.62 419.12L716.52 423.92H710.72Z"/><path d="M713.62 428.51L716.52 433.31H710.72Z"/><path d="M713.62 438.49L716.52 443.29H710.72Z"/><path d="M713.62 452.07L716.52 456.87H710.72Z"/><path d="M713.62 458.47L716.52 463.27H710.72Z"/><path d="M713.62 467.45L716.52 472.25H710.72Z"/></g>
<g fill="#747474" stroke="#242424" stroke-width="1.8"><rect x="518.39" y="352.11" width="5.6" height="5.6"/><rect x="518.39" y="362.09" width="5.6" height="5.6"/><rect x="518.39" y="376.07" width="5.6" height="5.6"/><rect x="518.39" y="381.07" width="5.6" height="5.6"/><rect x="518.39" y="397.05" width="5.6" height="5.6"/><rect x="518.39" y="409.03" width="5.6" height="5.6"/><rect x="518.39" y="420.62" width="5.6" height="5.6"/><rect x="588.43" y="387.06" width="5.6" height="5.6"/><rect x="588.43" y="392.65" width="5.6" height="5.6"/><rect x="588.43" y="408.03" width="5.6" height="5.6"/><rect x="588.43" y="413.03" width="5.6" height="5.6"/><rect x="588.43" y="419.02" width="5.6" height="5.6"/><rect x="588.43" y="425.01" width="5.6" height="5.6"/><rect x="588.43" y="431" width="5.6" height="5.6"/><rect x="588.43" y="443.98" width="5.6" height="5.6"/><rect x="658.47" y="401.44" width="5.6" height="5.6"/><rect x="658.47" y="418.02" width="5.6" height="5.6"/><rect x="658.47" y="424.41" width="5.6" height="5.6"/><rect x="658.47" y="430" width="5.6" height="5.6"/><rect x="658.47" y="435" width="5.6" height="5.6"/><rect x="658.47" y="453.97" width="5.6" height="5.6"/><rect x="658.47" y="458.96" width="5.6" height="5.6"/><rect x="658.47" y="463.96" width="5.6" height="5.6"/><rect x="728.51" y="385.66" width="5.6" height="5.6"/><rect x="728.51" y="414.62" width="5.6" height="5.6"/><rect x="728.51" y="425.01" width="5.6" height="5.6"/><rect x="728.51" y="435.99" width="5.6" height="5.6"/><rect x="728.51" y="446.98" width="5.6" height="5.6"/><rect x="728.51" y="453.97" width="5.6" height="5.6"/><rect x="728.51" y="463.96" width="5.6" height="5.6"/><rect x="728.51" y="471.95" width="5.6" height="5.6"/></g>
<g fill="#fff" stroke="#242424" stroke-width="1.8"><rect x="518.39" y="404.04" width="5.6" height="5.6"/></g>
<path d="M452.9 484.9H456M452.9 445.7H456M452.9 406.5H456M452.9 367.3H456M452.9 328.1H456M452.9 288.9H456" stroke="#1d1d1d" stroke-width="1.7" fill="none"/>
<path d="M455 494.4H738" stroke="#1d1d1d" stroke-width="2.7" fill="none"/>
<path d="M501.9 317.3V296.5H705.9V317.3M569.4 296.5V317.3M638.5 296.5V317.3" stroke="#1d1d1d" stroke-width="2.1" fill="none"/>
<path d="M456 288V485.8" stroke="#1d1d1d" stroke-width="2.4" fill="none"/>
<g class="nsg" font-size="13.4" text-anchor="end"><text x="446.6" y="489.7">0</text><text x="446.6" y="450.5">20</text><text x="446.6" y="411.3">40</text><text x="446.6" y="372.1">60</text><text x="446.6" y="332.9">80</text><text x="446.6" y="293.7">100</text></g>
<g font-size="15.2" text-anchor="middle"><text x="509.6" y="512.5">BL</text><text x="577" y="512.5">T1</text><text x="648" y="512.5">T2</text><text x="718.7" y="512.5">T3</text></g>
<text x="387.9" y="266.8" font-size="19.5">f</text>
<text transform="translate(417.5 386.5) rotate(-90)" font-size="15.4" text-anchor="middle" textLength="139.1" lengthAdjust="spacingAndGlyphs" class="ns">Visists into PC (N)</text>
<g font-size="10" letter-spacing="-0.25"><rect x="644.45" y="346.65" width="22.8" height="5.3" fill="#fff" stroke="#1d1d1d" stroke-width="2.5"/><text x="673.3" y="352.75">VEH</text><rect x="644.45" y="359.25" width="22.8" height="5.3" fill="#c9cacc" stroke="#1d1d1d" stroke-width="2.5"/><text x="673.3" y="365.35">A 0.5</text><rect x="644.45" y="372.25" width="22.8" height="5.3" fill="url(#h2)" stroke="#1d1d1d" stroke-width="2.5"/><text x="673.3" y="378.35">A 5</text></g>
<g class="n" font-size="13.5"><text transform="translate(572.9 316) scale(0.9 1)">$$$</text><text transform="translate(642.4 316) scale(0.9 1)">$$$</text><text transform="translate(708.9 316) scale(0.9 1)">$$$</text></g></g>
<g id="pg"><g stroke="#1d1d1d" stroke-width="2.7"><rect x="475.06" y="685.62" width="14.19" height="65.18" fill="#fff"/><rect x="493.59" y="689.02" width="14.19" height="61.78" fill="#c9cacc"/><rect x="512.12" y="690.62" width="14.19" height="60.18" fill="url(#h)"/><rect x="548.66" y="690.02" width="14.19" height="60.78" fill="#fff"/><rect x="567.19" y="686.02" width="14.19" height="64.78" fill="#c9cacc"/><rect x="585.72" y="691.02" width="14.19" height="59.78" fill="url(#h)"/><rect x="622.26" y="678.63" width="14.19" height="72.17" fill="#fff"/><rect x="640.79" y="682.03" width="14.19" height="68.77" fill="#c9cacc"/><rect x="659.32" y="668.65" width="14.19" height="82.15" fill="url(#h)"/><rect x="695.86" y="678.63" width="14.19" height="72.17" fill="#fff"/><rect x="714.39" y="680.43" width="14.19" height="70.37" fill="#c9cacc"/><rect x="732.92" y="676.04" width="14.19" height="74.76" fill="url(#h)"/></g>
<path d="M482.15 684.42V681.83M478.15 681.83H486.15M500.68 687.82V685.22M496.68 685.22H504.68M519.21 689.42V685.42M515.21 685.42H523.21M555.75 688.82V683.42M551.75 683.42H559.75M574.28 684.82V680.83M570.28 680.83H578.28M592.81 689.82V685.42M588.81 685.42H596.81M629.35 677.43V665.85M625.35 665.85H633.35M647.88 680.83V672.44M643.88 672.44H651.88M666.41 667.45V654.86M662.41 654.86H670.41M702.95 677.43V665.45M698.95 665.45H706.95M721.48 679.23V672.84M717.48 672.84H725.48M740.01 674.84V665.45M736.01 665.45H744.01" stroke="#1d1d1d" stroke-width="1.8" fill="none"/>
<g fill="#fff" stroke="#1d1d1d" stroke-width="1.75"><circle cx="485.66" cy="670.44" r="2.85"/><circle cx="485.66" cy="678.43" r="2.85"/><circle cx="485.66" cy="683.82" r="2.85"/><circle cx="485.66" cy="689.82" r="2.85"/><circle cx="485.66" cy="694.81" r="2.85"/><circle cx="485.66" cy="700.8" r="2.85"/><circle cx="559.26" cy="652.47" r="2.85"/><circle cx="559.26" cy="667.85" r="2.85"/><circle cx="559.26" cy="676.83" r="2.85"/><circle cx="559.26" cy="682.83" r="2.85"/><circle cx="559.26" cy="687.82" r="2.85"/><circle cx="559.26" cy="691.81" r="2.85"/><circle cx="559.26" cy="697.81" r="2.85"/><circle cx="559.26" cy="713.38" r="2.85"/><circle cx="632.86" cy="589.95" r="2.85"/><circle cx="632.86" cy="653.26" r="2.85"/><circle cx="632.86" cy="665.85" r="2.85"/><circle cx="632.86" cy="682.83" r="2.85"/><circle cx="632.86" cy="689.82" r="2.85"/><circle cx="632.86" cy="695.81" r="2.85"/><circle cx="632.86" cy="701.8" r="2.85"/><circle cx="632.86" cy="721.37" r="2.85"/><circle cx="706.46" cy="583.96" r="2.85"/><circle cx="706.46" cy="637.89" r="2.85"/><circle cx="706.46" cy="678.23" r="2.85"/><circle cx="706.46" cy="685.82" r="2.85"/><circle cx="706.46" cy="691.81" r="2.85"/><circle cx="706.46" cy="699.8" r="2.85"/><circle cx="706.46" cy="706.79" r="2.85"/><circle cx="706.46" cy="710.79" r="2.85"/></g>
<g fill="#fff" stroke="#1d1d1d" stroke-width="2.1" stroke-linejoin="miter"><path d="M504.19 666.14L507.09 670.94H501.29Z"/><path d="M504.19 672.54L507.09 677.34H501.29Z"/><path d="M504.19 677.53L507.09 682.33H501.29Z"/><path d="M504.19 682.12L507.09 686.92H501.29Z"/><path d="M504.19 690.51L507.09 695.31H501.29Z"/><path d="M504.19 694.51L507.09 699.31H501.29Z"/><path d="M504.19 698.5L507.09 703.3H501.29Z"/><path d="M577.79 651.56L580.69 656.36H574.89Z"/><path d="M577.79 664.55L580.69 669.35H574.89Z"/><path d="M577.79 668.54L580.69 673.34H574.89Z"/><path d="M577.79 678.53L580.69 683.33H574.89Z"/><path d="M577.79 686.52L580.69 691.32H574.89Z"/><path d="M577.79 691.51L580.69 696.31H574.89Z"/><path d="M577.79 698.5L580.69 703.3H574.89Z"/><path d="M577.79 708.49L580.69 713.29H574.89Z"/><path d="M651.39 617.61L654.29 622.41H648.49Z"/><path d="M651.39 646.97L654.29 651.77H648.49Z"/><path d="M651.39 656.56L654.29 661.36H648.49Z"/><path d="M651.39 665.55L654.29 670.35H648.49Z"/><path d="M651.39 673.53L654.29 678.33H648.49Z"/><path d="M651.39 678.53L654.29 683.33H648.49Z"/><path d="M651.39 688.12L654.29 692.92H648.49Z"/><path d="M651.39 693.11L654.29 697.91H648.49Z"/><path d="M651.39 698.5L654.29 703.3H648.49Z"/><path d="M651.39 703.49L654.29 708.29H648.49Z"/><path d="M651.39 710.09L654.29 714.89H648.49Z"/><path d="M724.99 646.57L727.89 651.37H722.09Z"/><path d="M724.99 652.56L727.89 657.36H722.09Z"/><path d="M724.99 663.95L727.89 668.75H722.09Z"/><path d="M724.99 669.54L727.89 674.34H722.09Z"/><path d="M724.99 674.53L727.89 679.33H722.09Z"/><path d="M724.99 681.52L727.89 686.32H722.09Z"/><path d="M724.99 691.51L727.89 696.31H722.09Z"/><path d="M724.99 702.5L727.89 707.3H722.09Z"/><path d="M724.99 709.09L727.89 713.89H722.09Z"/></g>
<g fill="#747474" stroke="#242424" stroke-width="1.8"><rect x="519.92" y="661.45" width="5.6" height="5.6"/><rect x="519.92" y="675.03" width="5.6" height="5.6"/><rect x="519.92" y="680.62" width="5.6" height="5.6"/><rect x="519.92" y="687.02" width="5.6" height="5.6"/><rect x="519.92" y="692.61" width="5.6" height="5.6"/><rect x="519.92" y="698" width="5.6" height="5.6"/><rect x="519.92" y="702.99" width="5.6" height="5.6"/><rect x="593.52" y="659.05" width="5.6" height="5.6"/><rect x="593.52" y="665.45" width="5.6" height="5.6"/><rect x="593.52" y="671.64" width="5.6" height="5.6"/><rect x="593.52" y="686.62" width="5.6" height="5.6"/><rect x="593.52" y="692.01" width="5.6" height="5.6"/><rect x="593.52" y="698" width="5.6" height="5.6"/><rect x="593.52" y="703.99" width="5.6" height="5.6"/><rect x="667.12" y="575.17" width="5.6" height="5.6"/><rect x="667.12" y="580.56" width="5.6" height="5.6"/><rect x="667.12" y="631.09" width="5.6" height="5.6"/><rect x="667.12" y="672.04" width="5.6" height="5.6"/><rect x="667.12" y="687.02" width="5.6" height="5.6"/><rect x="667.12" y="693.01" width="5.6" height="5.6"/><rect x="667.12" y="699" width="5.6" height="5.6"/><rect x="667.12" y="704.99" width="5.6" height="5.6"/><rect x="740.72" y="608.72" width="5.6" height="5.6"/><rect x="740.72" y="644.47" width="5.6" height="5.6"/><rect x="740.72" y="654.66" width="5.6" height="5.6"/><rect x="740.72" y="665.64" width="5.6" height="5.6"/><rect x="740.72" y="680.03" width="5.6" height="5.6"/><rect x="740.72" y="687.02" width="5.6" height="5.6"/><rect x="740.72" y="694.01" width="5.6" height="5.6"/><rect x="740.72" y="702.99" width="5.6" height="5.6"/></g>
<path d="M451 750.4H454.8M451 722.97H454.8M451 695.54H454.8M451 668.11H454.8M451 640.68H454.8M451 613.25H454.8M451 585.82H454.8M451 558.39H454.8" stroke="#1d1d1d" stroke-width="1.7" fill="none"/>
<path d="M453.8 760.6H751" stroke="#1d1d1d" stroke-width="2.7" fill="none"/>
<path d="M499.2 569.2V547.6H713.4V569.2M569.8 547.6V569.2M642.9 547.6V569.2" stroke="#1d1d1d" stroke-width="2.4" fill="none"/>
<path d="M454.8 543.3V751.3" stroke="#1d1d1d" stroke-width="2.4" fill="none"/>
<g class="nsg" font-size="14.0" text-anchor="end"><text x="444.4" y="755.41">0</text><text x="444.4" y="727.98">20</text><text x="444.4" y="700.55">40</text><text x="444.4" y="673.12">60</text><text x="444.4" y="645.69">80</text><text x="444.4" y="618.26">100</text><text x="444.4" y="590.83">120</text><text x="444.4" y="563.4">140</text></g>
<g font-size="15.5" text-anchor="middle"><text x="512.8" y="779">BL</text><text x="583.2" y="779">T1</text><text x="657.3" y="779">T2</text><text x="732.2" y="779">T3</text></g>
<text x="389" y="516.9" font-size="19">g</text>
<text transform="translate(413.5 647.5) rotate(-90)" font-size="14.2" text-anchor="middle" textLength="221.5" lengthAdjust="spacingAndGlyphs" class="ns">Locomotion per visit in CC (cm)</text>
<g font-size="10.6" letter-spacing="-0.25"><rect x="471.95" y="598.59" width="23.8" height="5.77" fill="#fff" stroke="#1d1d1d" stroke-width="2.5"/><text x="502" y="605.06">VEH</text><rect x="471.95" y="611.89" width="23.8" height="5.77" fill="#c9cacc" stroke="#1d1d1d" stroke-width="2.5"/><text x="502" y="618.36">A 0.5</text><rect x="471.95" y="625.19" width="23.8" height="5.77" fill="url(#h2)" stroke="#1d1d1d" stroke-width="2.5"/><text x="502" y="631.66">A 5</text></g>
<g class="n" font-size="12.3"><text transform="translate(574.4 567.8) scale(0.85 1)">$</text><text transform="translate(646.9 567.8) scale(0.85 1)">$</text><text transform="translate(717.8 567.8) scale(0.85 1)">$</text></g></g>
<g id="ph"><g stroke="#1d1d1d" stroke-width="2.7"><rect x="476.16" y="946.62" width="14.21" height="64.18" fill="#fff"/><rect x="494.71" y="941.63" width="14.21" height="69.17" fill="#c9cacc"/><rect x="513.26" y="944.43" width="14.21" height="66.37" fill="url(#h)"/><rect x="549.73" y="939.43" width="14.21" height="71.37" fill="#fff"/><rect x="568.28" y="938.43" width="14.21" height="72.37" fill="#c9cacc"/><rect x="586.83" y="951.62" width="14.21" height="59.18" fill="url(#h)"/><rect x="623.3" y="937.63" width="14.21" height="73.17" fill="#fff"/><rect x="641.85" y="936.04" width="14.21" height="74.76" fill="#c9cacc"/><rect x="660.4" y="935.44" width="14.21" height="75.36" fill="url(#h)"/><rect x="696.87" y="936.04" width="14.21" height="74.76" fill="#fff"/><rect x="715.42" y="930.44" width="14.21" height="80.36" fill="#c9cacc"/><rect x="733.97" y="936.04" width="14.21" height="74.76" fill="url(#h)"/></g>
<path d="M483.26 945.42V942.23M479.26 942.23H487.26M501.81 940.43V936.83M497.81 936.83H505.81M520.36 943.23V937.23M516.36 937.23H524.36M556.83 938.23V927.45M552.83 927.45H560.83M575.38 937.23V933.24M571.38 933.24H579.38M593.93 950.42V946.82M589.93 946.82H597.93M630.4 936.43V931.84M626.4 931.84H634.4M648.95 934.84V926.85M644.95 926.85H652.95M667.5 934.24V924.25M663.5 924.25H671.5M703.97 934.84V927.85M699.97 927.85H707.97M722.52 929.24V921.45M718.52 921.45H726.52M741.07 934.84V926.25M737.07 926.25H745.07" stroke="#1d1d1d" stroke-width="1.8" fill="none"/>
<g fill="#fff" stroke="#1d1d1d" stroke-width="1.75"><circle cx="486.66" cy="921.85" r="2.85"/><circle cx="486.66" cy="925.85" r="2.85"/><circle cx="486.66" cy="942.83" r="2.85"/><circle cx="486.66" cy="946.82" r="2.85"/><circle cx="486.66" cy="955.81" r="2.85"/><circle cx="486.66" cy="962.8" r="2.85"/><circle cx="486.66" cy="967.79" r="2.85"/><circle cx="560.23" cy="828.38" r="2.85"/><circle cx="560.23" cy="929.84" r="2.85"/><circle cx="560.23" cy="932.84" r="2.85"/><circle cx="560.23" cy="944.82" r="2.85"/><circle cx="560.23" cy="949.82" r="2.85"/><circle cx="560.23" cy="954.81" r="2.85"/><circle cx="560.23" cy="960.8" r="2.85"/><circle cx="560.23" cy="965.4" r="2.85"/><circle cx="633.8" cy="916.86" r="2.85"/><circle cx="633.8" cy="920.85" r="2.85"/><circle cx="633.8" cy="929.44" r="2.85"/><circle cx="633.8" cy="936.83" r="2.85"/><circle cx="633.8" cy="941.83" r="2.85"/><circle cx="633.8" cy="945.82" r="2.85"/><circle cx="633.8" cy="973.38" r="2.85"/><circle cx="707.37" cy="901.88" r="2.85"/><circle cx="707.37" cy="906.27" r="2.85"/><circle cx="707.37" cy="920.85" r="2.85"/><circle cx="707.37" cy="928.44" r="2.85"/><circle cx="707.37" cy="936.83" r="2.85"/><circle cx="707.37" cy="943.42" r="2.85"/><circle cx="707.37" cy="958.4" r="2.85"/></g>
<g fill="#fff" stroke="#1d1d1d" stroke-width="2.1" stroke-linejoin="miter"><path d="M505.21 903.97L508.11 908.77H502.31Z"/><path d="M505.21 925.15L508.11 929.95H502.31Z"/><path d="M505.21 933.53L508.11 938.33H502.31Z"/><path d="M505.21 940.53L508.11 945.33H502.31Z"/><path d="M505.21 945.52L508.11 950.32H502.31Z"/><path d="M505.21 951.51L508.11 956.31H502.31Z"/><path d="M505.21 956.5L508.11 961.3H502.31Z"/><path d="M578.78 913.56L581.68 918.36H575.88Z"/><path d="M578.78 918.55L581.68 923.35H575.88Z"/><path d="M578.78 925.55L581.68 930.35H575.88Z"/><path d="M578.78 932.54L581.68 937.34H575.88Z"/><path d="M578.78 940.53L581.68 945.33H575.88Z"/><path d="M578.78 948.51L581.68 953.31H575.88Z"/><path d="M578.78 961.1L581.68 965.9H575.88Z"/><path d="M652.35 882.8L655.25 887.6H649.45Z"/><path d="M652.35 884.4L655.25 889.2H649.45Z"/><path d="M652.35 910.57L655.25 915.37H649.45Z"/><path d="M652.35 937.53L655.25 942.33H649.45Z"/><path d="M652.35 942.52L655.25 947.32H649.45Z"/><path d="M652.35 950.51L655.25 955.31H649.45Z"/><path d="M652.35 962.5L655.25 967.3H649.45Z"/><path d="M652.35 969.49L655.25 974.29H649.45Z"/><path d="M725.92 878.61L728.82 883.41H723.02Z"/><path d="M725.92 895.59L728.82 900.39H723.02Z"/><path d="M725.92 907.57L728.82 912.37H723.02Z"/><path d="M725.92 924.15L728.82 928.95H723.02Z"/><path d="M725.92 936.53L728.82 941.33H723.02Z"/><path d="M725.92 942.52L728.82 947.32H723.02Z"/><path d="M725.92 948.51L728.82 953.31H723.02Z"/></g>
<g fill="#747474" stroke="#242424" stroke-width="1.8"><rect x="520.96" y="886.7" width="5.6" height="5.6"/><rect x="520.96" y="905.07" width="5.6" height="5.6"/><rect x="520.96" y="938.03" width="5.6" height="5.6"/><rect x="520.96" y="943.42" width="5.6" height="5.6"/><rect x="520.96" y="949.01" width="5.6" height="5.6"/><rect x="520.96" y="957" width="5.6" height="5.6"/><rect x="520.96" y="962.99" width="5.6" height="5.6"/><rect x="594.53" y="925.64" width="5.6" height="5.6"/><rect x="594.53" y="933.03" width="5.6" height="5.6"/><rect x="594.53" y="942.62" width="5.6" height="5.6"/><rect x="594.53" y="947.02" width="5.6" height="5.6"/><rect x="594.53" y="953.01" width="5.6" height="5.6"/><rect x="594.53" y="962.99" width="5.6" height="5.6"/><rect x="594.53" y="969.99" width="5.6" height="5.6"/><rect x="668.1" y="852.74" width="5.6" height="5.6"/><rect x="668.1" y="900.68" width="5.6" height="5.6"/><rect x="668.1" y="912.06" width="5.6" height="5.6"/><rect x="668.1" y="922.45" width="5.6" height="5.6"/><rect x="668.1" y="929.04" width="5.6" height="5.6"/><rect x="668.1" y="937.03" width="5.6" height="5.6"/><rect x="668.1" y="950.01" width="5.6" height="5.6"/><rect x="668.1" y="957" width="5.6" height="5.6"/><rect x="668.1" y="973.98" width="5.6" height="5.6"/><rect x="668.1" y="978.97" width="5.6" height="5.6"/><rect x="741.67" y="885.1" width="5.6" height="5.6"/><rect x="741.67" y="897.08" width="5.6" height="5.6"/><rect x="741.67" y="917.06" width="5.6" height="5.6"/><rect x="741.67" y="930.04" width="5.6" height="5.6"/><rect x="741.67" y="940.03" width="5.6" height="5.6"/><rect x="741.67" y="947.02" width="5.6" height="5.6"/><rect x="741.67" y="957" width="5.6" height="5.6"/><rect x="741.67" y="962.99" width="5.6" height="5.6"/><rect x="741.67" y="968.99" width="5.6" height="5.6"/></g>
<path d="M451.5 1010.4H455.3M451.5 982.9H455.3M451.5 955.4H455.3M451.5 927.9H455.3M451.5 900.4H455.3M451.5 872.9H455.3M451.5 845.4H455.3M451.5 817.9H455.3" stroke="#1d1d1d" stroke-width="1.7" fill="none"/>
<path d="M454.3 1020.6H751" stroke="#1d1d1d" stroke-width="2.7" fill="none"/>
<path d="M501.5 833.5V811.8H715.4V833.5M572.2 811.8V833.5M645.5 811.8V833.5" stroke="#1d1d1d" stroke-width="2.4" fill="none"/>
<path d="M455.3 804V1011.3" stroke="#1d1d1d" stroke-width="2.4" fill="none"/>
<g class="nsg" font-size="13.9" text-anchor="end"><text x="444.8" y="1015.38">0</text><text x="444.8" y="987.88">20</text><text x="444.8" y="960.38">40</text><text x="444.8" y="932.88">60</text><text x="444.8" y="905.38">80</text><text x="444.8" y="877.88">100</text><text x="444.8" y="850.38">120</text><text x="444.8" y="822.88">140</text></g>
<g font-size="15.5" text-anchor="middle"><text x="511.3" y="1039.5">BL</text><text x="581.4" y="1039.5">T1</text><text x="656" y="1039.5">T2</text><text x="729.7" y="1039.5">T3</text></g>
<text x="388.9" y="784.1" font-size="19.5">h</text>
<text transform="translate(415 908) rotate(-90)" font-size="14.2" text-anchor="middle" textLength="221.5" lengthAdjust="spacingAndGlyphs" class="ns">Locomotion per visit in PC (cm)</text>
<g font-size="10.5" letter-spacing="-0.25"><rect x="464.95" y="847.22" width="23.8" height="5.69" fill="#fff" stroke="#1d1d1d" stroke-width="2.5"/><text x="495" y="853.62">VEH</text><rect x="464.95" y="860.42" width="23.8" height="5.69" fill="#c9cacc" stroke="#1d1d1d" stroke-width="2.5"/><text x="495" y="866.82">A 0.5</text><rect x="464.95" y="873.72" width="23.8" height="5.69" fill="url(#h2)" stroke="#1d1d1d" stroke-width="2.5"/><text x="495" y="880.12">A 5</text></g>
<g class="n" font-size="12.3"><text transform="translate(576.8 833.7) scale(0.85 1)">$</text><text transform="translate(649.9 833.7) scale(0.85 1)">$</text><text transform="translate(720.4 833.7) scale(0.85 1)">$</text></g>
<text x="588" y="907.9" font-size="25" text-anchor="middle">*</text></g>
</svg>
</body></html>
